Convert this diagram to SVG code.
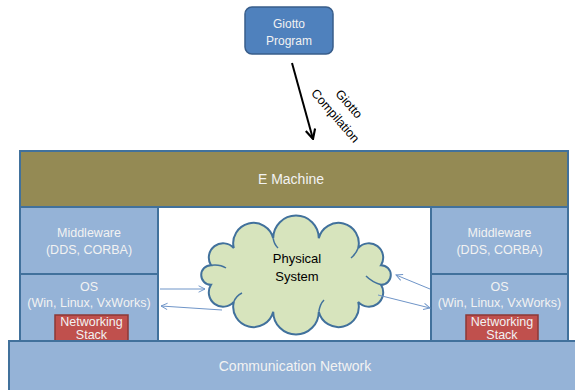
<svg xmlns="http://www.w3.org/2000/svg" width="575" height="390" viewBox="0 0 575 390">
  <style>
    .layer { fill: #95b3d7; stroke: #41719c; stroke-width: 2; }
    .emach { fill: #948a54; stroke: #41719c; stroke-width: 2; }
    .stack { fill: #c0504d; stroke: #8c3836; stroke-width: 1.5; }
    .lbl { font-family: "Liberation Sans", Arial, sans-serif; font-size: 12.5px; fill: #f2f2f2; text-anchor: middle; }
    .big { font-size: 14px; }
    .dark { fill: #000000; }
    .link { stroke: #6f95c8; stroke-width: 1; fill: none; marker-end: url(#openBlue); }
  </style>
  <defs>
    <marker id="openBlue" viewBox="0 0 10 10" refX="9" refY="5" markerWidth="8" markerHeight="8" orient="auto" markerUnits="userSpaceOnUse">
      <path d="M1,1 L9,5 L1,9" fill="none" stroke="#6f95c8" stroke-width="1.2"/>
    </marker>
    <marker id="openBlack" viewBox="0 0 10 10" refX="9" refY="5" markerWidth="12" markerHeight="12" orient="auto" markerUnits="userSpaceOnUse">
      <path d="M1,1 L9,5 L1,9" fill="none" stroke="#000000" stroke-width="1.8"/>
    </marker>
  </defs>

  <rect x="0" y="0" width="575" height="390" fill="#ffffff"/>

  <!-- platform frame -->
  <g id="frame">
    <rect x="20" y="151" width="548" height="192" fill="#ffffff" stroke="#41719c" stroke-width="2"/>
  </g>

  <g id="e-machine">
    <rect class="emach" x="20" y="151" width="548" height="56"/>
    <text class="lbl big" x="291" y="184">E Machine</text>
  </g>

  <g id="middleware-left">
    <rect class="layer" x="20" y="207" width="138" height="67"/>
    <text class="lbl" x="89" y="237">Middleware</text>
    <text class="lbl" x="89" y="254">(DDS, CORBA)</text>
  </g>

  <g id="os-left">
    <rect class="layer" x="20" y="274" width="138" height="70"/>
    <text class="lbl" x="89" y="291">OS</text>
    <text class="lbl" x="89" y="307">(Win, Linux, VxWorks)</text>
  </g>

  <g id="stack-left">
    <rect class="stack" x="55" y="315" width="73" height="30"/>
    <text class="lbl" x="91.5" y="326">Networking</text>
    <text class="lbl" x="91.5" y="339">Stack</text>
  </g>

  <g id="middleware-right">
    <rect class="layer" x="431" y="207" width="137" height="67"/>
    <text class="lbl" x="499.5" y="237">Middleware</text>
    <text class="lbl" x="499.5" y="254">(DDS, CORBA)</text>
  </g>

  <g id="os-right">
    <rect class="layer" x="431" y="274" width="137" height="70"/>
    <text class="lbl" x="499.5" y="291">OS</text>
    <text class="lbl" x="499.5" y="307">(Win, Linux, VxWorks)</text>
  </g>

  <g id="stack-right">
    <rect class="stack" x="466" y="315" width="72" height="30"/>
    <text class="lbl" x="502" y="326">Networking</text>
    <text class="lbl" x="502" y="339">Stack</text>
  </g>

  <g id="communication-network">
    <rect class="layer" x="9" y="341" width="572" height="55"/>
    <text class="lbl big" x="295" y="371">Communication Network</text>
  </g>

  <g id="physical-system">
    <path d="M211,284.8 A9.8,9.8 0 0 1 211,265.2 A14.3,14.3 0 0 1 233.8,248.1 A20.3,20.3 0 0 1 273.2,238.3 A22.8,22.8 0 0 1 318.8,238.3 A20.3,20.3 0 0 1 358.2,248.1 A14.3,14.3 0 0 1 381,265.2 A9.8,9.8 0 0 1 381,284.8 A14.3,14.3 0 0 1 358.2,301.9 A20.3,20.3 0 0 1 318.8,311.7 A22.8,22.8 0 0 1 273.2,311.7 A20.3,20.3 0 0 1 233.8,301.9 A14.3,14.3 0 0 1 211,284.8 Z"
          fill="#d7e4bd" stroke="#41719c" stroke-width="2"/>
    <!-- inner curls of the cloud outline -->
    <path d="M211,265.2 Q220,264 226,268" fill="none" stroke="#41719c" stroke-width="1.5"/>
    <path d="M273.2,238.3 Q274,244 278,248" fill="none" stroke="#41719c" stroke-width="1.5"/>
    <path d="M358.2,248.1 Q356,254 351,258" fill="none" stroke="#41719c" stroke-width="1.5"/>
    <path d="M381,284.8 Q372,282 366,276" fill="none" stroke="#41719c" stroke-width="1.5"/>
    <path d="M318.8,311.7 Q320,304 324,300" fill="none" stroke="#41719c" stroke-width="1.5"/>
    <path d="M233.8,301.9 Q236,296 242,293" fill="none" stroke="#41719c" stroke-width="1.5"/>
    <text class="lbl big dark" x="297" y="263" style="font-size:13px">Physical</text>
    <text class="lbl big dark" x="297" y="281" style="font-size:13px">System</text>
  </g>

  <g id="giotto-program">
    <rect x="245" y="7" width="88" height="47" rx="7" ry="7" fill="#4f81bd" stroke="#385d8a" stroke-width="1.5"/>
    <text class="lbl" x="289" y="28" style="font-size:12px">Giotto</text>
    <text class="lbl" x="289" y="45" style="font-size:12px">Program</text>
  </g>

  <g id="connectors">
    <line x1="292" y1="63" x2="313" y2="139" stroke="#000000" stroke-width="2" marker-end="url(#openBlack)"/>
    <g transform="translate(342,110) rotate(49)">
      <text class="lbl dark" x="0" y="-5" style="font-size:12.5px">Giotto</text>
      <text class="lbl dark" x="0" y="13" style="font-size:12.5px">Compilation</text>
    </g>
    <line class="link" x1="160" y1="289" x2="205" y2="289"/>
    <line class="link" x1="222" y1="310" x2="161" y2="306"/>
    <line class="link" x1="430" y1="289" x2="396" y2="275"/>
    <line class="link" x1="378" y1="295" x2="430" y2="308"/>
  </g>
</svg>
